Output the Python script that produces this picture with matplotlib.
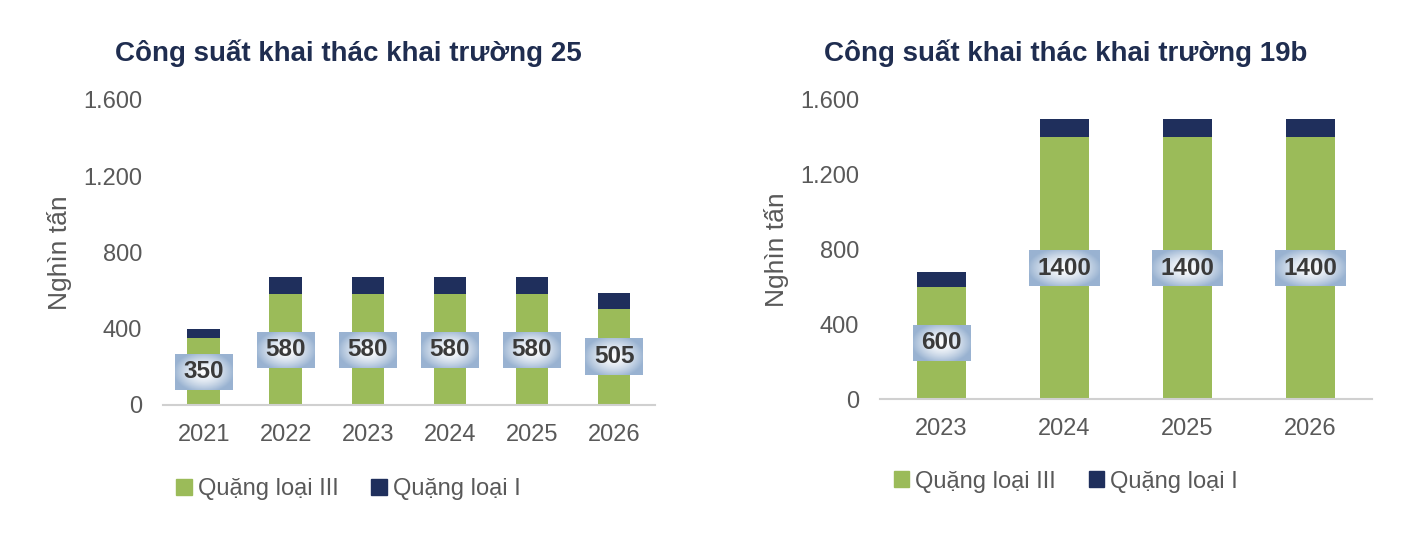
import numpy as np
import matplotlib
matplotlib.use("Agg")
import matplotlib.pyplot as plt
from matplotlib.patches import Patch

plt.rcParams['font.family'] = ['Liberation Sans', 'DejaVu Sans']

# data
years_25 = ["2021", "2022", "2023", "2024", "2025", "2026"]
loai3_25 = [350, 580, 580, 580, 580, 505]
loai1_25 = [50, 90, 90, 90, 90, 85]

years_19b = ["2023", "2024", "2025", "2026"]
loai3_19b = [600, 1400, 1400, 1400]
loai1_19b = [80, 100, 100, 100]

titles = ["Công suất khai thác khai trường 25", "Công suất khai thác khai trường 19b"]
y_ticks = [0, 400, 800, 1200, 1600]
y_tick_labels = ["0", "400", "800", "1.200", "1.600"]
series_names = ["Quặng loại III", "Quặng loại I"]

GREEN = "#9bbb59"
NAVY = "#1f2f5c"
GREY = "#595959"
TITLE_C = "#1f2d50"


def gradient_img():
    yy, xx = np.mgrid[-1:1:60j, -1:1:120j]
    r = np.clip(np.sqrt((xx / 1.05) ** 2 + (yy / 1.15) ** 2), 0, 1)
    edge = np.array([0.60, 0.70, 0.82])
    white = np.array([1.0, 1.0, 1.0])
    t = r[..., None] ** 1.5
    return white * (1 - t) + edge * t


def draw_chart(fig, rect, years, v3, v1, title):
    ax = fig.add_axes(rect)
    x = np.arange(len(years))
    ax.bar(x, v3, width=0.4, color=GREEN, zorder=2)
    ax.bar(x, v1, width=0.4, bottom=v3, color=NAVY, zorder=2)
    ax.set_xlim(-0.5, len(years) - 0.5)
    ax.set_ylim(0, 1600)
    ax.set_yticks(y_ticks)
    ax.set_yticklabels(y_tick_labels)
    ax.set_xticks(x)
    ax.set_xticklabels(years)
    ax.tick_params(axis='both', length=0, labelsize=17, colors=GREY)
    ax.tick_params(axis='y', pad=15)
    ax.tick_params(axis='x', pad=13.5)
    for s in ["top", "right", "left"]:
        ax.spines[s].set_visible(False)
    ax.spines["bottom"].set_color("#d0d0d0")
    ax.spines["bottom"].set_linewidth(1.5)
    ax.set_ylabel("Nghìn tấn", fontsize=19, color=GREY, labelpad=8)
    ax.text(0.377, 1.155, title, transform=ax.transAxes, ha="center", va="center",
            fontsize=20, fontweight="bold", color=TITLE_C)

    texts = []
    for xi, v in zip(x, v3):
        t = ax.text(xi, v / 2, str(v), ha="center", va="center", fontsize=17.5,
                    fontweight="bold", color="#3a3a3a", zorder=5)
        texts.append(t)

    leg = ax.legend(handles=[Patch(color=GREEN), Patch(color=NAVY)], labels=series_names,
                    loc="center", bbox_to_anchor=(0.377, -0.276), ncol=2, frameon=False,
                    fontsize=17, handlelength=0.65, handleheight=0.65, handletextpad=0.25,
                    columnspacing=1.4)
    for lt in leg.get_texts():
        lt.set_color(GREY)
    return ax, texts


fig = plt.figure(figsize=(14.16, 5.42), dpi=100)
fig.patch.set_facecolor("white")

ax1, t1 = draw_chart(fig, [0.115, 0.2528, 0.3476, 0.5627], years_25, loai3_25, loai1_25, titles[0])
ax2, t2 = draw_chart(fig, [0.6215, 0.2638, 0.3475, 0.5517], years_19b, loai3_19b, loai1_19b, titles[1])

fig.canvas.draw()
img = gradient_img()
for ax, texts in [(ax1, t1), (ax2, t2)]:
    inv = ax.transData.inverted()
    for t in texts:
        bb = t.get_window_extent()
        cx, cy = (bb.x0 + bb.x1) / 2, (bb.y0 + bb.y1) / 2
        hw = bb.width / 2 + 8.5
        hh = 18
        (x0, y0), (x1, y1) = inv.transform([[cx - hw, cy - hh], [cx + hw, cy + hh]])
        ax.imshow(img, extent=(x0, x1, y0, y1), aspect="auto", zorder=4, interpolation="bilinear")
    ax.set_xlim(-0.5, len(ax.get_xticks()) - 0.5)
    ax.set_ylim(0, 1600)

fig.savefig("out.png", dpi=100, facecolor="white")
